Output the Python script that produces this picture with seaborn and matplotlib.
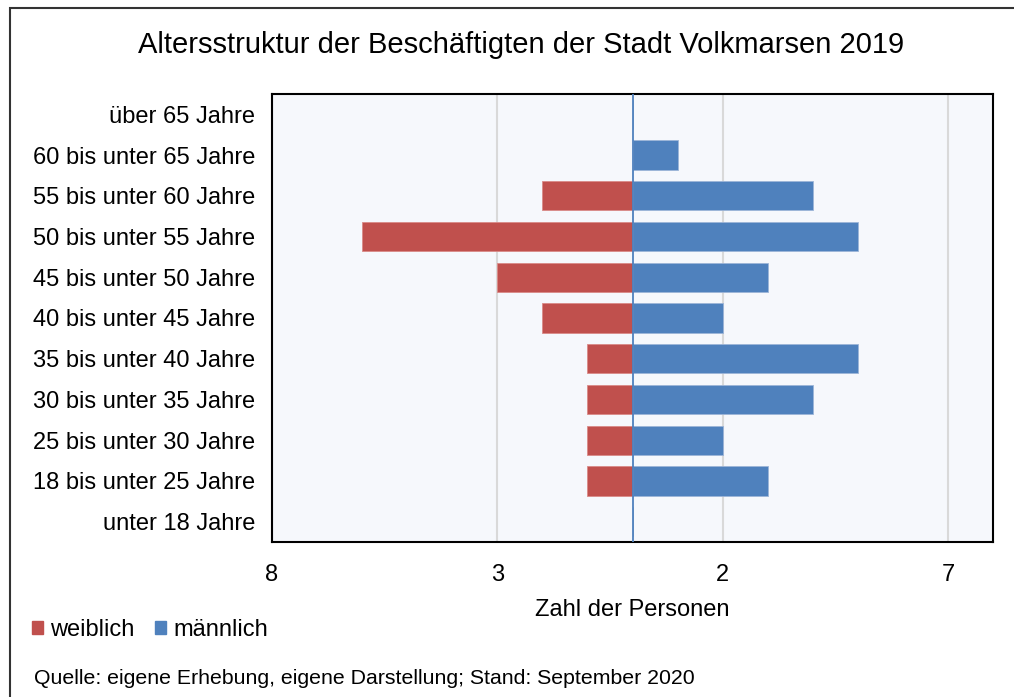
import pandas as pd
import numpy as np
import matplotlib.pyplot as plt
import matplotlib.patches as mpatches
import seaborn as sns

# age groups, top to bottom
gruppen = ["über 65 Jahre", "60 bis unter 65 Jahre", "55 bis unter 60 Jahre",
           "50 bis unter 55 Jahre", "45 bis unter 50 Jahre", "40 bis unter 45 Jahre",
           "35 bis unter 40 Jahre", "30 bis unter 35 Jahre", "25 bis unter 30 Jahre",
           "18 bis unter 25 Jahre", "unter 18 Jahre"]
weiblich = [0, 0, 2, 6, 3, 2, 1, 1, 1, 1, 0]
maennlich = [0, 1, 4, 5, 3, 2, 5, 4, 2, 3, 0]
xticks = [-8, -3, 2, 7]
xticklabels = ["8", "3", "2", "7"]

rot = "#C0504D"
blau = "#4F81BD"

df = pd.concat([
    pd.DataFrame({"gruppe": gruppen, "wert": [-v for v in weiblich], "geschlecht": "weiblich"}),
    pd.DataFrame({"gruppe": gruppen, "wert": maennlich, "geschlecht": "männlich"}),
])

sns.set_style("white")
plt.rcParams["font.family"] = ["Liberation Sans", "DejaVu Sans"]
plt.rcParams["text.color"] = "black"
plt.rcParams["xtick.color"] = "black"
plt.rcParams["ytick.color"] = "black"
plt.rcParams["axes.labelcolor"] = "black"

fig = plt.figure(figsize=(10.14, 6.97), dpi=100)
ax = fig.add_axes([272 / 1014, 1 - 542 / 697, (993 - 272) / 1014, (542 - 94) / 697])
ax.set_facecolor("#F6F8FC")

sns.barplot(data=df, x="wert", y="gruppe", hue="geschlecht", order=gruppen,
            palette={"weiblich": rot, "männlich": blau}, dodge=False, saturation=1,
            width=0.72, orient="h", ax=ax, legend=False,
            edgecolor="#9DB5D8", linewidth=0.6, zorder=3)
for p in ax.patches:
    if p.get_width() < 0:
        p.set_edgecolor("#D98A88")

ax.set_xlim(-8, 8)
ax.set_ylim(len(gruppen) - 0.5, -0.5)
ax.set_xticks(xticks)
ax.set_xticklabels(xticklabels, fontsize=17)
ax.tick_params(axis="y", labelsize=17, length=0, pad=12)
ax.tick_params(axis="x", length=0, pad=16)
ax.xaxis.grid(True, color="#D9D9D9", linewidth=1.5, zorder=0)
ax.axvline(0, color=blau, linewidth=1.3, zorder=4)
for s in ax.spines.values():
    s.set_color("black")
    s.set_linewidth(1.5)
ax.set_ylabel("")
ax.set_xlabel("Zahl der Personen", fontsize=17, labelpad=9)

fig.text(521 / 1014, 1 - 45 / 697, "Altersstruktur der Beschäftigten der Stadt Volkmarsen 2019",
         ha="center", va="center", fontsize=21)

handles = [mpatches.Patch(color=rot, label="weiblich"),
           mpatches.Patch(color=blau, label="männlich")]
fig.legend(handles=handles, loc="center left", bbox_to_anchor=(11 / 1014, 1 - 630 / 697),
           ncol=2, frameon=False, fontsize=17, handlelength=0.47, handleheight=0.47,
           handletextpad=0.3, columnspacing=0.85)

fig.text(34 / 1014, 1 - 678 / 697,
         "Quelle: eigene Erhebung, eigene Darstellung; Stand: September 2020",
         ha="left", va="center", fontsize=15.3)

fig.patches.append(mpatches.Rectangle((10 / 1014, -0.1), 1.2, 1 - 8 / 697 + 0.1,
                                      transform=fig.transFigure, fill=False,
                                      edgecolor="#333333", linewidth=1.5))

fig.savefig("out.png", dpi=100)
